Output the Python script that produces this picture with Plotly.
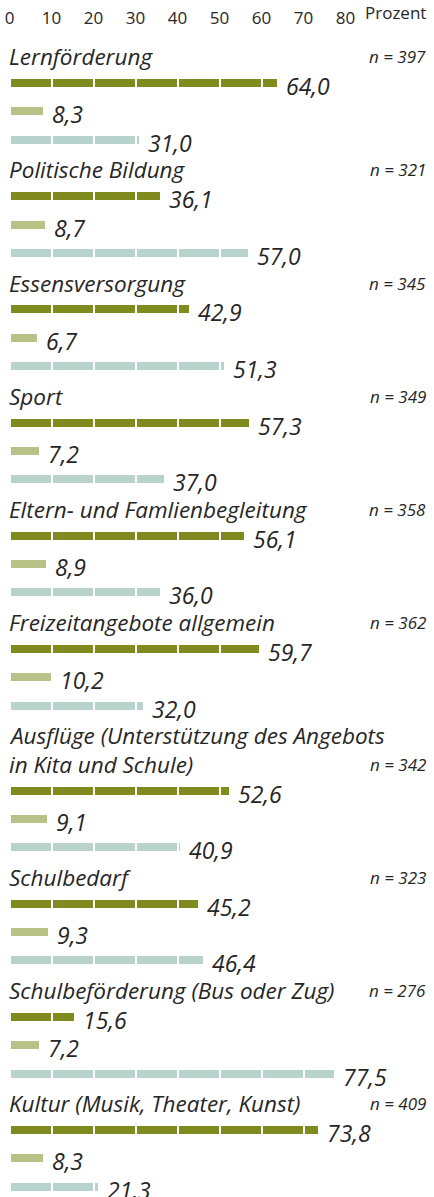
import plotly.graph_objects as go

# --- data -------------------------------------------------------------
categories = [
    "Lernförderung",
    "Politische Bildung",
    "Essensversorgung",
    "Sport",
    "Eltern- und Famlienbegleitung",
    "Freizeitangebote allgemein",
    "Ausflüge (Unterstützung des Angebots\nin Kita und Schule)",
    "Schulbedarf",
    "Schulbeförderung (Bus oder Zug)",
    "Kultur (Musik, Theater, Kunst)",
]
n_values = [397, 321, 345, 349, 358, 362, 342, 323, 276, 409]
values_1 = [64.0, 36.1, 42.9, 57.3, 56.1, 59.7, 52.6, 45.2, 15.6, 73.8]
values_2 = [8.3, 8.7, 6.7, 7.2, 8.9, 10.2, 9.1, 9.3, 7.2, 8.3]
values_3 = [31.0, 57.0, 51.3, 37.0, 36.0, 32.0, 40.9, 46.4, 77.5, 21.3]
tick_values = [0, 10, 20, 30, 40, 50, 60, 70, 80]
tick_labels = ["0", "10", "20", "30", "40", "50", "60", "70", "80"]
axis_unit = "Prozent"

# --- styling ----------------------------------------------------------
series = [values_1, values_2, values_3]
colors = ["#808b1f", "#b8c287", "#b7d3cc"]
TEXT = "#262626"
FONT = "Open Sans"
W, H = 434, 1197
TOP = 28                  # room for the percentage scale
ROW_PX = 28.3             # height of one row in pixels
FIRST_BAR_PX = 83         # pixel position of the first bar row
X0_PX = 9.5               # pixel position of value 0
PX_PER_UNIT = 4.2
SEG = 10                  # bars are split into 10-percent pieces

# --- row positions ----------------------------------------------------
title_rows, bar_rows = [], []
r = 0
for label in categories:
    lines = label.split("\n")
    title_rows.append([r + i for i in range(len(lines))])
    r += len(lines) - 1
    bar_rows.append([r + 1, r + 2, r + 3])
    r += 4

fig = go.Figure()

# stacked 10-percent segments, separated by white outlines
n_seg = 8
for k in range(n_seg):
    xs, ys, cs = [], [], []
    for gi in range(len(categories)):
        for si, vals in enumerate(series):
            v = vals[gi]
            xs.append(max(0.0, min(SEG, v - SEG * k)))
            ys.append(bar_rows[gi][si])
            cs.append(colors[si])
    fig.add_trace(go.Bar(
        x=xs, y=ys, orientation="h",
        marker=dict(color=cs, line=dict(color="white", width=2)),
        width=10 / ROW_PX,
        hoverinfo="skip", showlegend=False,
    ))

annotations = []
# value labels
for gi in range(len(categories)):
    for si, vals in enumerate(series):
        v = vals[gi]
        annotations.append(dict(
            x=v, y=bar_rows[gi][si], xref="x", yref="y",
            text=f"{v:.1f}".replace(".", ","),
            xanchor="left", yanchor="middle", xshift=6, yshift=-3,
            showarrow=False,
            font=dict(family=FONT, size=23, color=TEXT, style="italic"),
        ))
    # category titles
    for li, line in enumerate(categories[gi].split("\n")):
        annotations.append(dict(
            x=0, y=title_rows[gi][li], xref="paper", yref="y",
            text=line, xanchor="left", yanchor="middle", xshift=7, yshift=-2,
            showarrow=False,
            font=dict(family=FONT, size=22.5, color=TEXT, style="italic"),
        ))
    # sample size
    annotations.append(dict(
        x=1, y=title_rows[gi][-1], xref="paper", yref="y",
        text=f"n = {n_values[gi]}", xanchor="right", yanchor="middle",
        xshift=-6, yshift=-2, showarrow=False,
        font=dict(family=FONT, size=17, color=TEXT, style="italic"),
    ))

# unit label next to the scale
annotations.append(dict(
    x=1, y=1, xref="paper", yref="paper", text=axis_unit,
    xanchor="right", yanchor="bottom", xshift=-6, yshift=2,
    showarrow=False, font=dict(family=FONT, size=17, color=TEXT),
))

x_range = [-X0_PX / PX_PER_UNIT, (W - X0_PX) / PX_PER_UNIT]
y_top = 1 + (TOP - FIRST_BAR_PX) / ROW_PX
y_bottom = 1 + (H - FIRST_BAR_PX) / ROW_PX

fig.update_layout(
    width=W, height=H,
    margin=dict(l=0, r=0, t=TOP, b=0),
    paper_bgcolor="white", plot_bgcolor="white",
    barmode="stack", bargap=0,
    annotations=annotations,
    xaxis=dict(
        range=x_range, side="top", tickmode="array",
        tickvals=tick_values, ticktext=tick_labels,
        showgrid=False, zeroline=False, showline=False, ticks="",
        tickfont=dict(family=FONT, size=17, color=TEXT),
        fixedrange=True,
    ),
    yaxis=dict(
        range=[y_bottom, y_top], showticklabels=False, showgrid=False,
        zeroline=False, showline=False, ticks="", fixedrange=True,
    ),
)

fig.write_html("out.html")
